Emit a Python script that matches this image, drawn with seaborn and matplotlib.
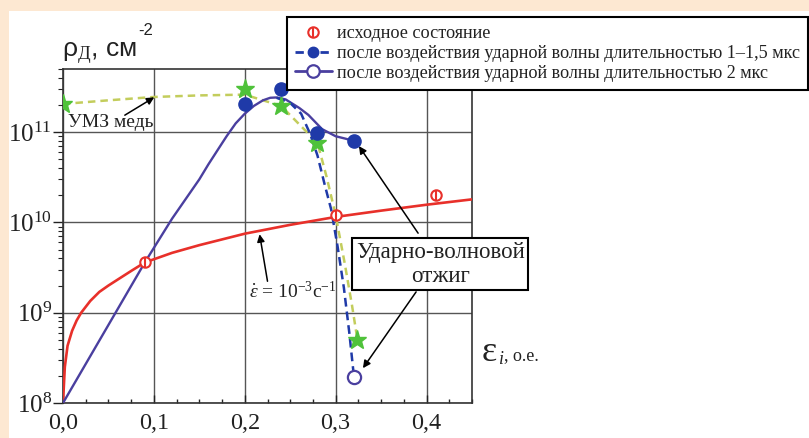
import pandas as pd
import seaborn as sns
import matplotlib.pyplot as plt
from matplotlib.lines import Line2D
from matplotlib.patches import Rectangle
from matplotlib.ticker import MultipleLocator, LogLocator, NullFormatter

# red curve: strain rate 1e-3 s^-1
red_x = [0, 0.002, 0.005, 0.01, 0.015, 0.02, 0.03, 0.04, 0.05, 0.065, 0.075, 0.09,
         0.12, 0.15, 0.2, 0.25, 0.3, 0.35, 0.4, 0.45]
red_y = [1e8, 2.5e8, 4.3e8, 6.3e8, 8.2e8, 1.0e9, 1.35e9, 1.7e9, 2.0e9, 2.5e9, 2.9e9, 3.6e9,
         4.6e9, 5.6e9, 7.5e9, 9.4e9, 1.15e10, 1.35e10, 1.57e10, 1.8e10]

# solid purple curve
purple_x = [0, 0.09, 0.12, 0.15, 0.16, 0.17, 0.18, 0.19, 0.2, 0.21, 0.22, 0.228, 0.235,
            0.245, 0.26, 0.27, 0.285, 0.30, 0.31, 0.32]
purple_y = [1e8, 3.6e9, 1.1e10, 3.0e10, 4.4e10, 6.3e10, 9.0e10, 1.25e11, 1.6e11, 1.95e11, 2.25e11, 2.4e11, 2.42e11,
            2.3e11, 1.85e11, 1.55e11, 1.08e11, 9.0e10, 8.5e10, 8.0e10]

# dashed blue curve
blue_x = [0.235, 0.25, 0.262, 0.272, 0.28, 0.288, 0.295, 0.302, 0.309, 0.315, 0.32]
blue_y = [2.4e11, 2.1e11, 1.6e11, 9.5e10, 5.5e10, 2.6e10, 1.4e10, 5.5e9, 1.9e9, 6e8, 2e8]

# dashed yellow-green curve (UFG copper)
green_x = [0, 0.05, 0.1, 0.15, 0.2, 0.24, 0.28, 0.29, 0.30, 0.31, 0.318, 0.324]
green_y = [2.05e11, 2.25e11, 2.45e11, 2.55e11, 2.6e11, 1.95e11, 7.6e10, 3.2e10, 1.2e10, 3.5e9, 1.2e9, 5e8]

# markers
red_mx = [0.09, 0.30, 0.41]
red_my = [3.6e9, 1.2e10, 2.0e10]
blue_mx = [0.20, 0.24, 0.28, 0.32]
blue_my = [2.05e11, 3.0e11, 9.8e10, 8.0e10]
open_mx = [0.32]
open_my = [1.95e8]
star_x = [0, 0.20, 0.24, 0.28, 0.324]
star_y = [2.05e11, 3.0e11, 1.95e11, 7.6e10, 5e8]

x_ticks = [0.0, 0.1, 0.2, 0.3, 0.4]
x_labels = ["0,0", "0,1", "0,2", "0,3", "0,4"]

legend_labels = ["исходное состояние",
                 "после воздействия ударной волны длительностью 1–1,5 мкс",
                 "после воздействия ударной волны длительностью 2 мкс"]

RED = '#e8302a'
PURPLE = '#4a3f9f'
BLUE = '#1f3aa8'
GREEN_LINE = '#c3cd5c'
GREEN_STAR = '#4fc23a'

sns.set_theme(style="white")
plt.rcParams['font.family'] = ['Liberation Serif', 'DejaVu Serif']
plt.rcParams['mathtext.fontset'] = 'custom'
plt.rcParams['mathtext.rm'] = 'Liberation Serif'
plt.rcParams['mathtext.it'] = 'Liberation Serif:italic'

fig = plt.figure(figsize=(8.09, 4.38), dpi=100, facecolor='#fde8d2')
fig.patches.append(Rectangle((9 / 809, 0), 1, 1 - 11 / 438, transform=fig.transFigure,
                             facecolor='white', edgecolor='none', zorder=-10))
ax = fig.add_axes([63 / 809, 35 / 438, 409 / 809, 334 / 438])
ax.set_facecolor('white')

sns.lineplot(x=red_x, y=red_y, ax=ax, color=RED, lw=1.9, estimator=None, zorder=3)
sns.lineplot(x=purple_x, y=purple_y, ax=ax, color=PURPLE, lw=1.7, estimator=None, zorder=3)
sns.lineplot(x=green_x, y=green_y, ax=ax, color=GREEN_LINE, lw=1.8, estimator=None, zorder=2)
ax.lines[-1].set_linestyle((0, (3, 2)))
sns.lineplot(x=blue_x, y=blue_y, ax=ax, color=BLUE, lw=1.8, estimator=None, zorder=3)
ax.lines[-1].set_linestyle((0, (3.5, 2)))

ax.plot(star_x, star_y, ls='none', marker='*', ms=14, color=GREEN_STAR, zorder=4)
ax.plot(blue_mx, blue_my, ls='none', marker='o', ms=9.5, color=BLUE, zorder=5)
ax.plot(open_mx, open_my, ls='none', marker='o', ms=9.5, mfc='white', mec=PURPLE, mew=1.6, zorder=5)
ax.plot(red_mx, red_my, ls='none', marker='o', ms=7.5, mfc='white', mec=RED, mew=1.5, zorder=5)
ax.plot(red_mx, red_my, ls='none', marker='|', ms=7.5, color=RED, mew=1.5, zorder=6)

ax.set_yscale('log')
ax.set_xlim(0, 0.45)
ax.set_ylim(1e8, 5e11)
ax.set_xticks(x_ticks)
ax.set_xticklabels(x_labels)
ax.xaxis.set_minor_locator(MultipleLocator(0.025))
ax.yaxis.set_major_locator(LogLocator(base=10, numticks=10))
ax.yaxis.set_minor_locator(LogLocator(base=10, subs=range(2, 10), numticks=10))
ax.yaxis.set_minor_formatter(NullFormatter())
ax.tick_params(axis='x', which='both', direction='in', bottom=True, labelsize=17.5, pad=7, colors='#222222')
ax.tick_params(axis='x', which='major', length=6, width=1)
ax.tick_params(axis='x', which='minor', length=3, width=1)
ax.tick_params(axis='y', which='both', direction='out', left=True, labelsize=18, pad=1, colors='#222222')
ax.tick_params(axis='y', which='major', length=7, width=1)
ax.tick_params(axis='y', which='minor', length=3.5, width=0.8)
ax.grid(True, which='major', color='#555555', lw=1)
for s in ax.spines.values():
    s.set_color('#333333')
    s.set_linewidth(1.2)

# axis labels
fig.text(62 / 809, 1 - 57 / 438, r"ρ$_{\mathrm{Д}}$, см", fontsize=19,
         family=['Liberation Sans', 'DejaVu Sans'], color='#222222')
fig.text(138 / 809, 1 - 35 / 438, "-2", fontsize=12,
         family=['Liberation Sans', 'DejaVu Sans'], color='#222222')
fig.text(482 / 809, 1 - 361 / 438, "ε", fontsize=26, color='#222222')
fig.text(499 / 809, 1 - 364 / 438, "i", fontsize=13, style='italic', color='#222222')
fig.text(504 / 809, 1 - 360 / 438, ", о.е.", fontsize=13, color='#222222')

# annotations
arrow = dict(arrowstyle='-|>', color='black', lw=1.1, mutation_scale=11, shrinkA=0, shrinkB=0)
ax.text(0.005, 1.28e11, "УМЗ медь", fontsize=14, va='center', ha='left', color='#222222', zorder=7)
ax.annotate("", xy=(0.1004, 2.43e11), xytext=(0.068, 1.54e11), arrowprops=arrow)
ax.text(0.253, 1.73e9, r"$\dot{\varepsilon}$ = 10$^{-3}$с$^{-1}$", fontsize=14, ha='center', va='center',
        color='#222222', zorder=7)
ax.annotate("", xy=(0.2163, 7.4e9), xytext=(0.225, 2.23e9), arrowprops=arrow)
ax.text(0.415, 3.43e9, "Ударно-волновой\nотжиг", fontsize=16.5, ha='center', va='center',
        linespacing=1.2, color='#222222', zorder=8,
        bbox=dict(boxstyle='square,pad=0.15', fc='white', ec='black', lw=1.5))
ax.annotate("", xy=(0.3256, 7e10), xytext=(0.3907, 7.6e9), arrowprops=arrow, annotation_clip=False)
ax.annotate("", xy=(0.33, 2.43e8), xytext=(0.3885, 1.7e9), arrowprops=arrow, annotation_clip=False)

# legend
h_red = (Line2D([], [], ls='none', marker='o', ms=7.5, mfc='white', mec=RED, mew=1.5),
         Line2D([], [], ls='none', marker='|', ms=7.5, color=RED, mew=1.5))
h_blue = Line2D([], [], color=BLUE, ls=(0, (3, 1.5)), lw=2, marker='o', ms=7.5, mfc=BLUE, mec=BLUE)
h_purple = Line2D([], [], color=PURPLE, ls='-', lw=2, marker='o', ms=9, mfc='white', mec=PURPLE, mew=1.6)
leg = fig.legend([h_red, h_blue, h_purple], legend_labels, loc='upper left',
                 bbox_to_anchor=(287 / 809, 1 - 17 / 438), bbox_transform=fig.transFigure,
                 borderaxespad=0, frameon=True, fancybox=False, framealpha=1, edgecolor='black',
                 fontsize=13.1, handlelength=2.0, handletextpad=0.3, labelspacing=0.15, borderpad=0.45)
leg.get_frame().set_linewidth(1.5)
for t in leg.get_texts():
    t.set_color('#222222')

fig.savefig('out.png', dpi=100, facecolor=fig.get_facecolor())
